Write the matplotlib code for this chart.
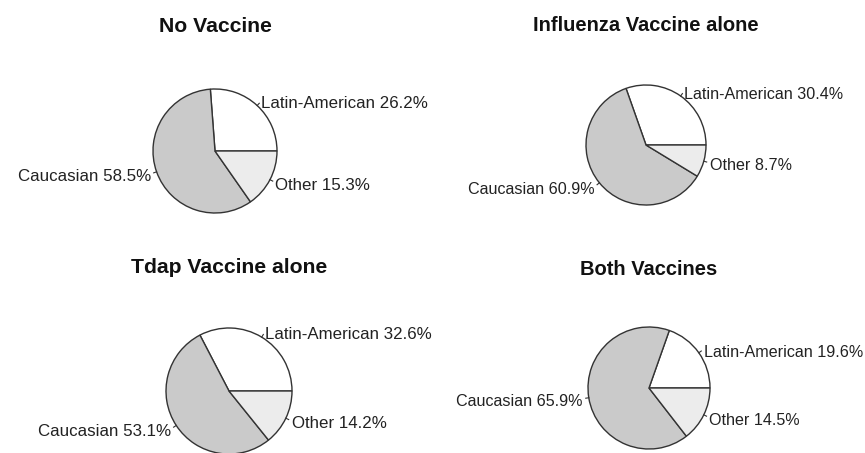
import numpy as np
import matplotlib
matplotlib.use("Agg")
import matplotlib.pyplot as plt

# ethnicity shares (%) per vaccination group
groups = ["No Vaccine", "Influenza Vaccine alone", "Tdap Vaccine alone", "Both Vaccines"]
categories = ["Latin-American", "Caucasian", "Other"]
no_vaccine = [26.2, 58.5, 15.3]
influenza_alone = [30.4, 60.9, 8.7]
tdap_alone = [32.6, 53.1, 14.2]
both_vaccines = [19.6, 65.9, 14.5]
colors = ["#ffffff", "#cacaca", "#ececec"]

W, H = 865, 453
# pie centre (x, y from top), radius in px, title baseline, label / title font sizes
layout = [
    ((215, 151), 62, 32, 12.2, 15.2),
    ((646, 145), 60, 31, 11.6, 14.5),
    ((229, 391), 63, 273, 12.2, 15.2),
    ((649, 388), 61, 275, 11.6, 14.5),
]
plt.rcParams['font.family'] = ['Liberation Sans', 'DejaVu Sans']

fig = plt.figure(figsize=(W / 100, H / 100), dpi=100)
ax = fig.add_axes([0, 0, 1, 1])

all_values = [no_vaccine, influenza_alone, tdap_alone, both_vaccines]
for title, vals, ((cx, cy), r, ty, fs, tfs) in zip(groups, all_values, layout):
    c = (cx, H - cy)
    wedges, _ = ax.pie(vals, colors=colors, startangle=0, counterclock=True,
                       center=c, radius=r,
                       wedgeprops=dict(edgecolor="#333333", linewidth=1.0))
    # R-style labels: short tick from the rim, text at 1.1 r
    for w, cat, v in zip(wedges, categories, vals):
        a = np.deg2rad((w.theta1 + w.theta2) / 2)
        dx, dy = np.cos(a), np.sin(a)
        ax.plot([c[0] + r * dx, c[0] + 1.05 * r * dx],
                [c[1] + r * dy, c[1] + 1.05 * r * dy],
                color="#333333", lw=0.8)
        ax.text(c[0] + 1.1 * r * dx, c[1] + 1.1 * r * dy - 3, f"{cat} {v}%",
                ha="left" if dx > 0 else "right", va="center",
                fontsize=fs, color="#222222")
    ax.text(cx, H - ty, title, ha="center", va="baseline", fontsize=tfs,
            fontweight="bold", color="#111111")

ax.set_xlim(0, W)
ax.set_ylim(0, H)
ax.set_aspect("equal")
ax.axis("off")
fig.savefig("out.png", dpi=100)
